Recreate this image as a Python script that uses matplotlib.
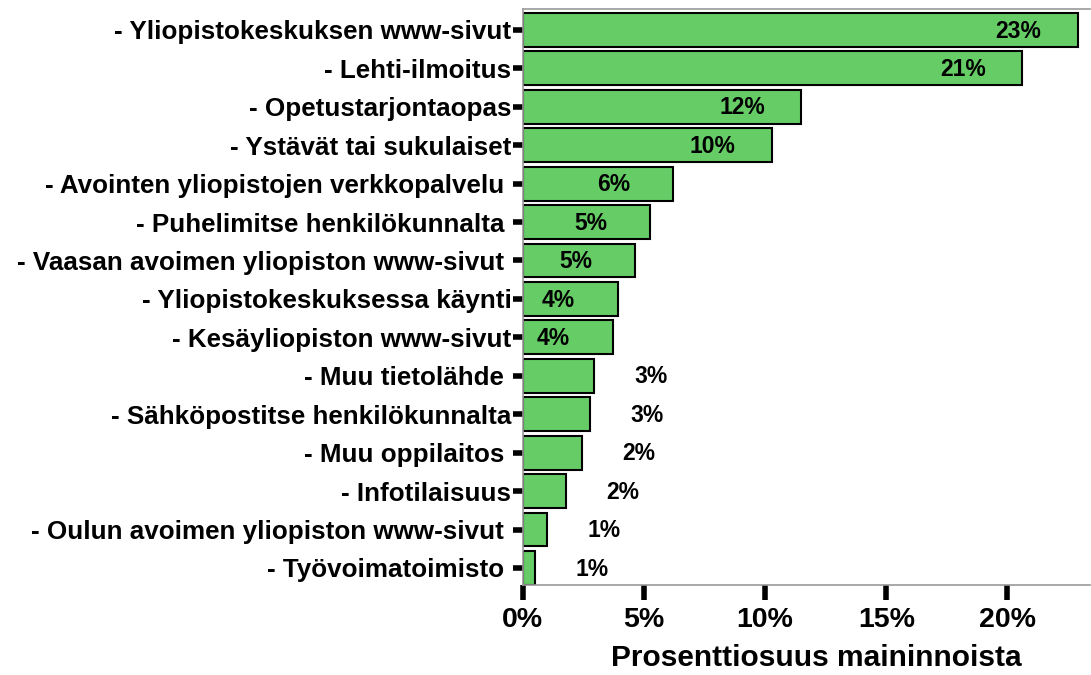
import matplotlib
matplotlib.use("Agg")
import matplotlib.pyplot as plt
from matplotlib.ticker import FuncFormatter

categories = [
    "- Yliopistokeskuksen www-sivut",
    "- Lehti-ilmoitus",
    "- Opetustarjontaopas",
    "- Ystävät tai sukulaiset",
    "- Avointen yliopistojen verkkopalvelu ",
    "- Puhelimitse henkilökunnalta ",
    "- Vaasan avoimen yliopiston www-sivut ",
    "- Yliopistokeskuksessa käynti",
    "- Kesäyliopiston www-sivut",
    "- Muu tietolähde ",
    "- Sähköpostitse henkilökunnalta",
    "- Muu oppilaitos ",
    "- Infotilaisuus",
    "- Oulun avoimen yliopiston www-sivut ",
    "- Työvoimatoimisto ",
]
values = [22.9, 20.6, 11.5, 10.3, 6.2, 5.25, 4.65, 3.93, 3.72, 2.93, 2.77, 2.44, 1.78, 0.99, 0.5]
value_labels = ["23%", "21%", "12%", "10%", "6%", "5%", "5%", "4%", "4%",
                "3%", "3%", "2%", "2%", "1%", "1%"]
xticks = [0, 5, 10, 15, 20]

plt.rcParams['font.family'] = ['Liberation Sans', 'DejaVu Sans']

fig = plt.figure(figsize=(10.91, 6.75), dpi=100)
ax = fig.add_axes([0.479, 0.133, 0.52, 0.854])

y = list(range(len(categories)))
ax.barh(y, values, height=0.88, color="#66CC66", edgecolor="black", linewidth=1.5)

for yi, v, lab in zip(y, values, value_labels):
    if v >= 3.5:
        xpos = v - 2.45
    else:
        xpos = v + 2.35
    ax.text(xpos, yi + 0.03, lab, ha="center", va="center", fontsize=16.5, fontweight="bold")

ax.set_ylim(14.45, -0.55)
ax.set_xlim(0, 23.4)
ax.set_yticks(y)
ax.set_yticklabels(categories, fontsize=18.7, fontweight="bold")
ax.set_xticks(xticks)
ax.xaxis.set_major_formatter(FuncFormatter(lambda x, p: f"{int(x)}%"))
for t in ax.get_xticklabels():
    t.set_fontsize(20.5)
    t.set_fontweight("bold")
ax.tick_params(axis="y", length=7, width=4, pad=1, color="black")
ax.tick_params(axis="x", length=11, width=4, pad=5, color="black")
ax.set_xlabel("Prosenttiosuus maininnoista", fontsize=21.5, fontweight="bold")
ax.xaxis.set_label_coords(0.518, -0.102)

for s in ["top", "bottom", "left"]:
    ax.spines[s].set_color("#999999")
    ax.spines[s].set_linewidth(1.2)
ax.spines["right"].set_visible(False)

fig.savefig("out.png", dpi=100)
